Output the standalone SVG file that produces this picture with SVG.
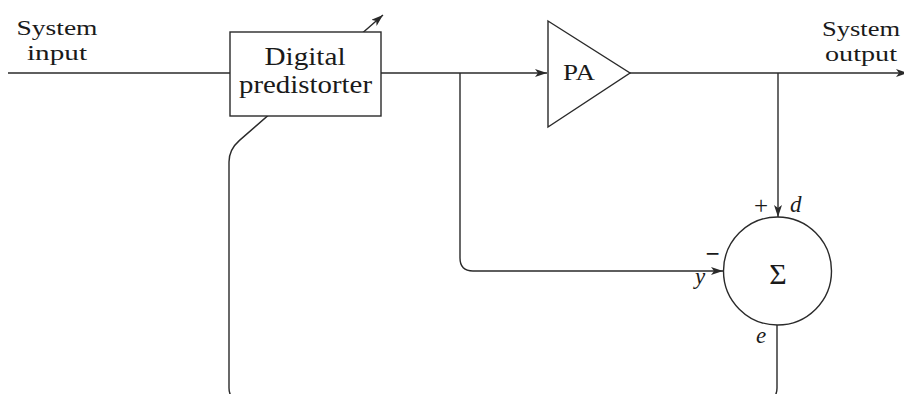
<svg xmlns="http://www.w3.org/2000/svg" width="904" height="394" viewBox="0 0 904 394">
<defs>
<style>
.ln{fill:none;stroke:#2a2a2a;stroke-width:1.4}
.shape{fill:#fff;stroke:#2a2a2a;stroke-width:1.4}
.t{font-family:"Liberation Serif","Times New Roman",serif;font-size:22px;fill:#1a1a1a;text-anchor:middle}
.i{font-family:"Liberation Serif","Times New Roman",serif;font-size:23px;font-style:italic;fill:#1a1a1a}
.s{font-family:"Liberation Serif","Times New Roman",serif;font-size:25px;fill:#1a1a1a;text-anchor:middle}
</style>
<marker id="ah" viewBox="0 0 12 8" refX="12" refY="4" markerWidth="12" markerHeight="8" markerUnits="userSpaceOnUse" orient="auto">
<path d="M0,0 L12,4 L0,8 L3,4 Z" fill="#2a2a2a"/>
</marker>
</defs>
<g id="connectors">
<path class="ln" d="M8,73 H230"/>
<path class="ln" d="M381,73 H547" marker-end="url(#ah)"/>
<path class="ln" d="M460,73 V258 Q460,271 473,271 H723" marker-end="url(#ah)"/>
<path class="ln" d="M630,73 H908" marker-end="url(#ah)"/>
<path class="ln" d="M778,73 V217" marker-end="url(#ah)"/>
<path class="ln" d="M777,325 V388 Q777,400 765,400 H241 Q229,400 229,388 V162 Q229,149.6 239.5,140.4 L383,15" marker-end="url(#ah)"/>
</g>
<g id="system-input">
<text class="t" x="57" y="35" textLength="81" lengthAdjust="spacingAndGlyphs">System</text>
<text class="t" x="57" y="60" textLength="60" lengthAdjust="spacingAndGlyphs">input</text>
</g>
<g id="predistorter">
<rect class="shape" x="230" y="32" width="151" height="84"/>
<text class="t" x="305" y="65" style="font-size:25px" textLength="81" lengthAdjust="spacingAndGlyphs">Digital</text>
<text class="t" x="305.5" y="93" style="font-size:25px" textLength="133" lengthAdjust="spacingAndGlyphs">predistorter</text>
</g>
<g id="pa">
<path class="shape" d="M548,21 L630,73 L548,127 Z"/>
<text class="t" x="579" y="80" style="font-size:24px" textLength="32" lengthAdjust="spacingAndGlyphs">PA</text>
</g>
<g id="system-output">
<text class="t" x="861" y="36" textLength="78" lengthAdjust="spacingAndGlyphs">System</text>
<text class="t" x="861" y="61" textLength="72" lengthAdjust="spacingAndGlyphs">output</text>
</g>
<g id="summer">
<circle class="shape" cx="777.5" cy="271" r="54"/>
<text class="t" x="778" y="284" style="font-size:30px">Σ</text>
<text class="s" x="761" y="214">+</text>
<text class="i" x="790" y="212">d</text>
<text class="s" x="712.5" y="262" style="font-weight:bold">−</text>
<text class="i" x="695" y="284">y</text>
<text class="i" x="756" y="343">e</text>
</g>
</svg>
